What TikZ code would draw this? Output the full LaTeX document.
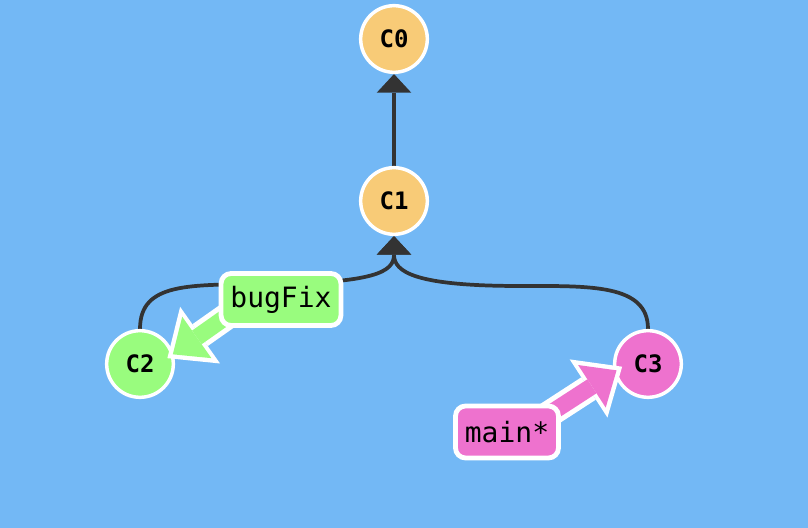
\documentclass[tikz,border=0pt]{standalone}
\usepackage{fontspec}
\setmonofont{DejaVu Sans Mono}
\usetikzlibrary{arrows.meta,calc,backgrounds}
\definecolor{bg}{HTML}{73B8F5}
\definecolor{corange}{HTML}{F8CB77}
\definecolor{cgreen}{HTML}{99FC7E}
\definecolor{cpink}{HTML}{EE72CE}
\definecolor{edgecol}{HTML}{333333}
\begin{document}
\begin{tikzpicture}[x=0.75pt,y=0.75pt,
  commit/.style={circle, draw=white, line width=2.6pt, minimum size=50pt, inner sep=0pt,
    font=\ttfamily\bfseries\fontsize{18}{18}\selectfont},
  branch/.style={rounded corners=7.5pt, draw=white, line width=3.6pt, minimum height=39pt,
    inner xsep=7pt, inner ysep=0pt, font=\ttfamily\fontsize{21}{21}\selectfont},
  parent/.style={draw=edgecol, line width=2.8pt, -{Triangle[width=26pt,length=14pt,line width=0pt]}},
  arrowout/.style={draw=white, line width=20pt, -{Triangle[width=52pt,length=30pt,line width=0pt]}},
  arrowin/.style={draw=#1, line width=12.5pt, shorten >=5pt, -{Triangle[width=38pt,length=22pt,line width=0pt]}},
  ]
\useasboundingbox (0,0) rectangle (808,528);

\node[commit, fill=corange] (C0) at (394,489) {C0};
\node[commit, fill=corange] (C1) at (394,327) {C1};
\node[commit, fill=cgreen]  (C2) at (140,164) {C2};
\node[commit, fill=cpink]   (C3) at (648,164) {C3};

\begin{scope}[on background layer]
\fill[bg] (0,0) rectangle (808,528);
% parent edges
\draw[parent] (C1) -- (C0);
\draw[parent] (C2.north) .. controls +(0,47) and (190,243) .. (267,244)
  .. controls (375,245) and (394,256) .. (C1.south);
\draw[parent] (C3.north) .. controls +(0,45) and (590,242) .. (520,242)
  .. controls (415,242) and (394,256) .. (C1.south);
\end{scope}

% branch arrows
\coordinate (bfT) at (250,228);
\coordinate (bfTip) at ($(C2)+(12:28)$);
\coordinate (mT) at (540,108);
\coordinate (mTip) at ($(C3)+(186:26)$);
\draw[arrowout] (bfT) -- (bfTip);
\draw[arrowin=cgreen] (bfT) -- (bfTip);
\draw[arrowout] (mT) -- (mTip);
\draw[arrowin=cpink] (mT) -- (mTip);

% branch labels
\node[branch, fill=cgreen] (bugFix) at (281,228.5) {bugFix};
\node[branch, fill=cpink] (main) at (507,96) {main*};
\end{tikzpicture}
\end{document}
